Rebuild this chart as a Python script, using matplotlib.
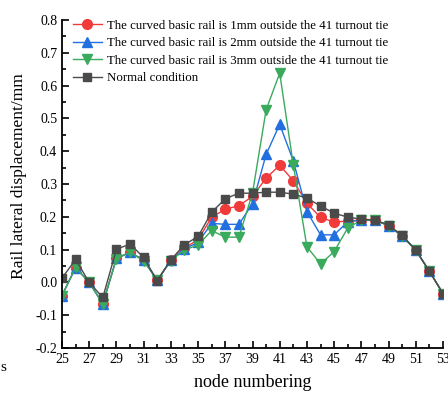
import matplotlib
matplotlib.use("Agg")
import matplotlib.pyplot as plt
from matplotlib.ticker import MultipleLocator

nodes = list(range(25, 54))
rail_1mm = [-0.04, 0.045, 0.0, -0.065, 0.073, 0.092, 0.068, 0.006, 0.068, 0.105, 0.130,
            0.199, 0.223, 0.234, 0.262, 0.318, 0.357, 0.310, 0.241, 0.198, 0.184, 0.187,
            0.190, 0.190, 0.173, 0.141, 0.098, 0.034, -0.034]
rail_2mm = [-0.04, 0.045, 0.0, -0.065, 0.073, 0.092, 0.067, 0.006, 0.067, 0.102, 0.122,
            0.180, 0.177, 0.177, 0.240, 0.390, 0.482, 0.370, 0.216, 0.145, 0.145, 0.185,
            0.190, 0.190, 0.173, 0.141, 0.098, 0.034, -0.034]
rail_3mm = [-0.04, 0.046, 0.0, -0.066, 0.072, 0.092, 0.066, 0.008, 0.066, 0.099, 0.114,
            0.158, 0.138, 0.138, 0.272, 0.526, 0.638, 0.358, 0.109, 0.056, 0.094, 0.166,
            0.190, 0.190, 0.173, 0.141, 0.098, 0.034, -0.034]
normal = [0.013, 0.070, 0.0, -0.046, 0.101, 0.117, 0.076, 0.005, 0.069, 0.115, 0.140,
          0.214, 0.255, 0.272, 0.272, 0.275, 0.275, 0.269, 0.257, 0.233, 0.211, 0.199,
          0.193, 0.190, 0.175, 0.143, 0.099, 0.034, -0.034]

labels = ["The curved basic rail is 1mm outside the 41 turnout tie",
          "The curved basic rail is 2mm outside the 41 turnout tie",
          "The curved basic rail is 3mm outside the 41 turnout tie",
          "Normal condition"]
xticks = list(range(25, 54, 2))

plt.rcParams['font.family'] = ['Liberation Serif', 'DejaVu Serif']

fig = plt.figure(figsize=(4.48, 3.98), dpi=100)
ax = fig.add_axes([62/448, 1-348/398, (443-62)/448, (348-20)/398])

ax.plot(nodes, rail_1mm, color='#F03B3B', marker='o', ms=7, lw=1.0, label=labels[0])
ax.plot(nodes, rail_2mm, color='#2270E0', marker='^', ms=7.5, lw=1.0, label=labels[1])
ax.plot(nodes, rail_3mm, color='#3AAA5C', marker='v', ms=7.5, lw=1.0, label=labels[2])
ax.plot(nodes, normal, color='#4A4A4A', marker='s', ms=6, lw=1.0, label=labels[3])

ax.set_xlim(25, 53)
ax.set_ylim(-0.2, 0.8)
ax.set_xticks(xticks)
ax.xaxis.set_minor_locator(MultipleLocator(1))
ax.yaxis.set_major_locator(MultipleLocator(0.1))
ax.yaxis.set_minor_locator(MultipleLocator(0.05))
ax.set_yticklabels([f"{v:.1f}" for v in ax.get_yticks()])
ax.tick_params(which='both', direction='in', labelsize=10, width=1.2)
ax.tick_params(which='major', length=5)
ax.tick_params(which='minor', length=3)
for s in ['top', 'right']:
    ax.spines[s].set_visible(False)
for s in ['left', 'bottom']:
    ax.spines[s].set_linewidth(1.3)

ax.set_xlabel("node numbering", fontsize=13, labelpad=6)
ax.set_ylabel("Rail lateral displacement/mm", fontsize=12.6)
ax.yaxis.set_label_coords(-0.092, 0.525)

ax.legend(loc='upper left', bbox_to_anchor=(0.016, 1.017), frameon=False, fontsize=9.3,
          handlelength=2.2, handletextpad=0.4, labelspacing=0.42, borderaxespad=0.0,
          borderpad=0.4)

fig.text(0.0, 1-371/398, "s", fontsize=11)

fig.savefig("out.png", dpi=100)
